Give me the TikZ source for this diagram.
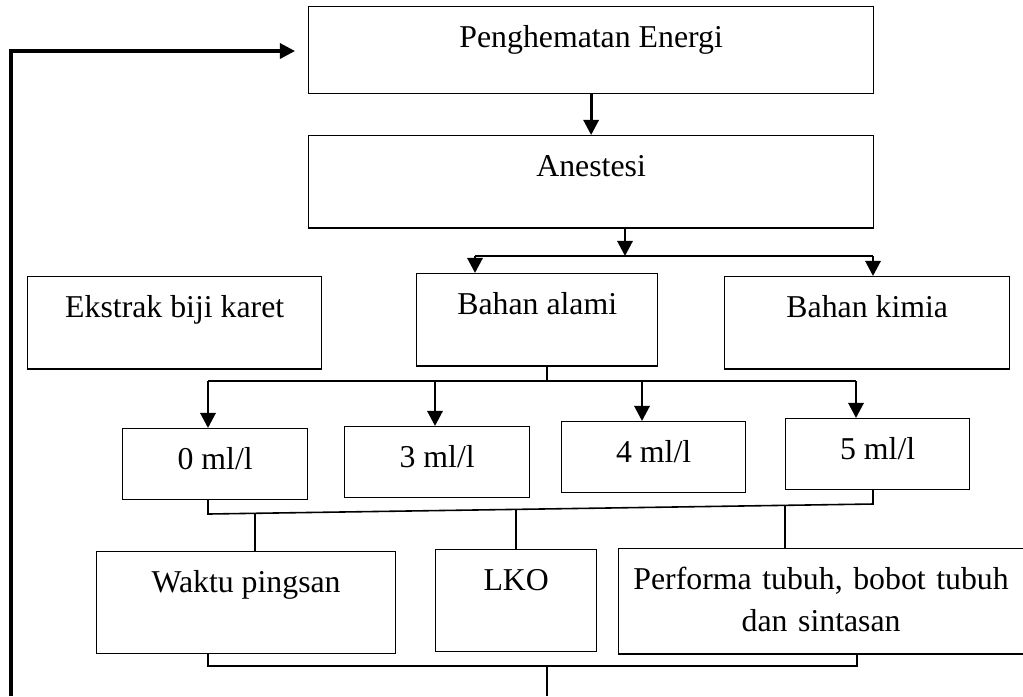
\documentclass[tikz,border=0pt]{standalone}
\usepackage{fontspec}
\setmainfont{Liberation Serif}
\usetikzlibrary{arrows.meta,calc}
\tikzset{
  box/.style={draw, line width=0.5pt, inner sep=0pt, anchor=north west,
    text height=15.3pt, font=\fontsize{12}{15.85}\selectfont},
  wire/.style={line width=0.6pt},
  arr/.style={line width=1.1pt, -{Triangle[length=5.7pt,width=5.7pt]}},
}
\begin{document}
\begin{tikzpicture}[x=0.3774pt,y=-0.3774pt]
  \useasboundingbox (0,0) rectangle (1023,696);
  % boxes
  \node[box, minimum width=213.2pt, text depth=17.4pt] (peng) at (308,6) {Penghematan Energi};
  \node[box, minimum width=213.2pt, text depth=19.6pt] (anes) at (308,135) {Anestesi};
  \node[box, minimum width=111pt, text depth=19.6pt] (ekst) at (27,276) {Ekstrak biji karet};
  \node[box, minimum width=91pt, text depth=19.6pt] (alami) at (416,273) {Bahan alami};
  \node[box, minimum width=107.6pt, text depth=19.6pt] (kimia) at (724,276) {Bahan kimia};
  \node[box, minimum width=69.8pt, text depth=11.3pt] (zero) at (122,428) {0 ml/l};
  \node[box, minimum width=69.8pt, text depth=11.3pt] (three) at (344,426) {3 ml/l};
  \node[box, minimum width=69.4pt, text depth=11.3pt] (four) at (561,421) {4 ml/l};
  \node[box, minimum width=69.4pt, text depth=11.3pt] (five) at (785,418) {5 ml/l};
  \node[box, minimum width=112.8pt, text depth=23pt] (waktu) at (96,551) {Waktu pingsan};
  \node[box, minimum width=60.8pt, text depth=23pt] (lko) at (435,549) {LKO};
  \node[box, text width=152.8pt, align=center, text depth=24.5pt] (perf) at (618,548)
    {Performa tubuh, bobot tubuh\\dan sintasan};
  % branch points
  \coordinate (j1) at (625,256);
  \coordinate (j1l) at (475,256);
  \coordinate (j1r) at (873,256);
  \coordinate (j2) at (547,381);
  \coordinate (k1) at (208,514);
  \coordinate (k2) at (873,504);
  \coordinate (m1) at (208,666);
  \coordinate (m2) at (857,666);
  \coordinate (m3) at (547,666);
  \coordinate (out) at (547,696);
  \coordinate (fb0) at (11,696);
  \coordinate (fb1) at (11,51);
  % connectors
  \draw[arr] (peng.south) -- (anes.north);
  \draw[arr] (anes.south -| j1) -- (j1);
  \draw[wire] (j1l) -- (j1r);
  \draw[arr] (j1l) -- (alami.north -| j1l);
  \draw[arr] (j1r) -- (kimia.north -| j1r);
  \draw[wire] (alami.south -| j2) -- (j2);
  \draw[wire] (208,381) -- (856,381);
  \foreach \x/\n in {208/zero,435/three,642/four,856/five}
    \draw[arr] (\x,381) -- (\n.north -| \x,381);
  \draw[wire] (zero.south -| k1) -- (k1) -- (k2) -- (five.south -| k2);
  \foreach \t/\x/\n in {0.0707/255/waktu,0.4632/516/lko,0.8677/785/perf}
    \draw[wire] ($(k1)!\t!(k2)$) -- (\n.north -| \x,0);
  \draw[wire] (waktu.south -| m1) -- (m1) -- (m2) -- (perf.south -| m2);
  \draw[wire] (m3) -- (out);
  \draw[arr, line width=1.2pt] (fb0) -- (fb1) -- ($(peng.west |- fb1)+(-13,0)$);
\end{tikzpicture}
\end{document}
